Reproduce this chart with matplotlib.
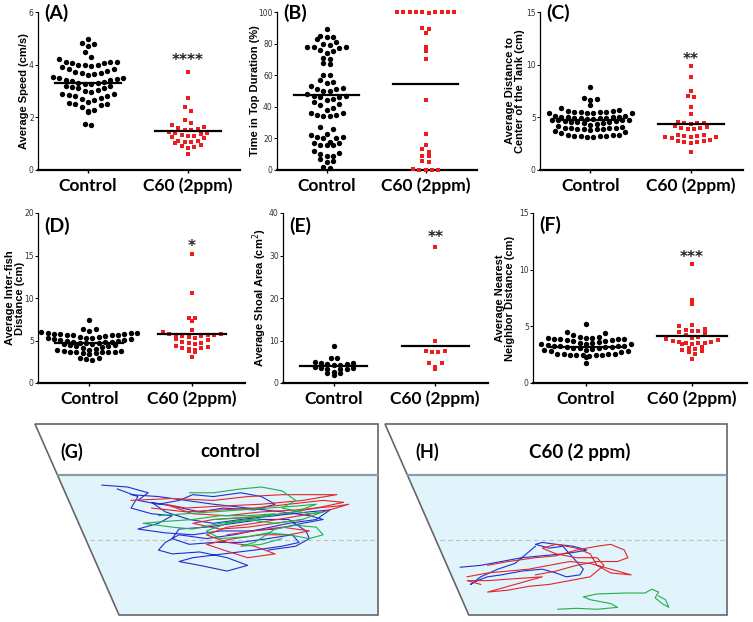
import numpy as np
import matplotlib
matplotlib.use('Agg')
import matplotlib.pyplot as plt
from matplotlib.patches import Polygon

groups = ['Control', 'C60 (2ppm)']

# panel values
speed_ctrl = [4.97, 4.82, 4.78, 4.72, 4.5, 4.28, 4.22, 4.12, 4.1, 4.1, 4.08, 4.05, 4.0, 4.0, 3.98, 3.95,
              3.92, 3.85, 3.82, 3.75, 3.72, 3.7, 3.68, 3.65, 3.6, 3.55, 3.5, 3.48, 3.45, 3.42, 3.4, 3.38,
              3.35, 3.32, 3.3, 3.28, 3.25, 3.2, 3.18, 3.15, 3.12, 3.1, 3.05, 3.0, 2.95, 2.9, 2.88, 2.85,
              2.82, 2.8, 2.75, 2.7, 2.65, 2.6, 2.55, 2.52, 2.5, 2.45, 2.4, 2.28, 2.25, 2.22, 1.75, 1.72]
speed_c60 = [3.73, 2.75, 2.38, 2.25, 1.88, 1.78, 1.7, 1.65, 1.6, 1.55, 1.52, 1.5, 1.45, 1.42, 1.4, 1.38,
             1.32, 1.3, 1.28, 1.25, 1.22, 1.1, 1.1, 1.08, 1.05, 1.02, 0.95, 0.9, 0.88, 0.85, 0.6]

top_ctrl = [89, 85, 84, 84, 83, 81, 80, 79, 78, 78, 78, 77, 76, 75, 74, 71, 70, 68, 67, 60, 60, 57, 56,
            55, 53, 52, 51, 51, 50, 50, 48, 47, 47, 46, 46, 45, 44, 43, 42, 41, 39, 38, 36, 36, 35, 35,
            34, 34, 27, 26, 23, 22, 21, 21, 20, 20, 18, 17, 17, 16, 16, 16, 12, 11, 10, 9, 9, 7, 6, 5, 2, 1]
top_c60 = [100, 100, 100, 100, 100, 100, 100, 100, 100, 99.5, 90, 89.5, 87, 78, 75.5, 70, 44, 22.5,
           16, 13, 11.5, 9, 9, 5.5, 5, 0.5, 0, 0, 0, 0]

center_ctrl = [7.9, 6.8, 6.7, 6.6, 6.2, 5.9, 5.7, 5.6, 5.6, 5.55, 5.5, 5.5, 5.5, 5.45, 5.45, 5.4, 5.4,
               5.1, 5.1, 5.05, 5.0, 5.0, 5.0, 4.95, 4.95, 4.9, 4.9, 4.85, 4.85, 4.75, 4.75, 4.7, 4.7,
               4.65, 4.65, 4.6, 4.6, 4.55, 4.5, 4.5, 4.4, 4.3, 4.2, 4.05, 4.0, 4.0, 3.95, 3.95, 3.9,
               3.9, 3.85, 3.85, 3.8, 3.7, 3.6, 3.5, 3.35, 3.3, 3.3, 3.25, 3.25, 3.2, 3.2, 3.15, 3.15]
center_c60 = [9.9, 8.8, 7.5, 7.0, 6.9, 6.0, 5.3, 4.55, 4.5, 4.5, 4.45, 4.4, 4.2, 4.1, 4.0, 3.95, 3.9,
              3.85, 3.35, 3.3, 3.25, 3.2, 3.15, 3.1, 3.1, 3.05, 2.85, 2.8, 2.75, 2.7, 2.65, 2.6, 2.55, 1.7]

inter_ctrl = [7.4, 6.4, 6.3, 6.1, 6.0, 5.9, 5.9, 5.85, 5.8, 5.8, 5.75, 5.7, 5.7, 5.65, 5.6, 5.5, 5.45,
              5.4, 5.35, 5.3, 5.25, 5.2, 5.15, 5.1, 5.05, 5.0, 4.9, 4.85, 4.8, 4.8, 4.75, 4.7, 4.65,
              4.6, 4.55, 4.5, 4.45, 4.4, 4.3, 4.2, 4.1, 4.0, 3.9, 3.85, 3.8, 3.75, 3.7, 3.7, 3.65,
              3.6, 3.6, 3.55, 3.5, 3.4, 3.0, 2.9, 2.8, 2.7]
inter_c60 = [15.2, 10.6, 7.7, 7.6, 7.3, 6.2, 6.0, 5.8, 5.75, 5.7, 5.65, 5.6, 5.55, 5.5, 5.4, 5.3, 5.2,
             5.1, 4.8, 4.75, 4.7, 4.6, 4.3, 4.2, 4.15, 4.1, 4.0, 3.9, 3.8, 3.7, 3.1]

shoal_ctrl = [8.6, 6.0, 5.9, 4.9, 4.7, 4.6, 4.5, 4.4, 4.3, 4.2, 3.8, 3.6, 3.5, 3.4, 3.3, 3.2, 2.6,
              2.4, 2.3, 1.8]
shoal_c60 = [32.1, 9.8, 7.6, 7.3, 7.2, 7.5, 4.6, 3.4, 3.8, 4.8]

nnd_ctrl = [5.2, 4.5, 4.4, 4.2, 4.1, 4.05, 4.0, 4.0, 3.95, 3.9, 3.9, 3.85, 3.85, 3.8, 3.8, 3.75, 3.7,
            3.6, 3.55, 3.5, 3.45, 3.4, 3.4, 3.35, 3.3, 3.3, 3.25, 3.25, 3.2, 3.2, 3.15, 3.1, 3.1,
            3.05, 3.0, 2.95, 2.9, 2.85, 2.8, 2.7, 2.6, 2.6, 2.55, 2.55, 2.5, 2.5, 2.5, 2.45, 2.45,
            2.4, 2.3, 1.8]
nnd_c60 = [10.5, 7.3, 7.0, 5.1, 5.0, 4.8, 4.7, 4.6, 4.6, 4.5, 4.4, 4.2, 4.1, 4.0, 3.9, 3.8, 3.7,
           3.65, 3.6, 3.55, 3.5, 3.5, 3.45, 3.4, 3.2, 3.1, 3.0, 2.9, 2.8, 2.7, 2.6, 2.1]

means = [[3.3, 1.47], [47.2, 54.5], [4.7, 4.35], [4.7, 5.8], [4.1, 8.8], [3.2, 4.15]]
stars = ['****', '', '**', '*', '**', '***']
star_y = [4.15, 0, 10.5, 16.1, 34.2, 11.1]
letters = ['(A)', '(B)', '(C)', '(D)', '(E)', '(F)']
ylabels = ['Average Speed (cm/s)', 'Time in Top Duration (%)',
           'Average Distance to\nCenter of the Tank (cm)', 'Average Inter-fish\nDistance (cm)',
           'Average Shoal Area (cm$^2$)', 'Average Nearest\nNeighbor Distance (cm)']
ymax = [6, 100, 15, 20, 40, 15]
ystep = [2, 20, 5, 5, 10, 5]

data = [(speed_ctrl, speed_c60), (top_ctrl, top_c60), (center_ctrl, center_c60),
        (inter_ctrl, inter_c60), (shoal_ctrl, shoal_c60), (nnd_ctrl, nnd_c60)]

# swim tracks, tank units (x 0-100 left->right, y 0-100 top->bottom)
g_blue = [(19.5, 32), (27, 33), (33, 36), (30, 40), (36, 42), (42, 40), (46, 37), (52, 38), (60, 36),
          (66, 38), (70, 42), (64, 45), (55, 44), (48, 46), (40, 43), (34, 41), (38, 46), (45, 50),
          (52, 52), (60, 50), (70, 48), (80, 46), (86, 45), (82, 50), (74, 52), (66, 55), (58, 58),
          (50, 60), (42, 58), (38, 62), (36, 66), (40, 68), (48, 67), (56, 70), (62, 74), (56, 77),
          (48, 74), (42, 72), (46, 70), (55, 68), (64, 66), (72, 64), (77, 62), (75, 58), (68, 60),
          (60, 62), (52, 62), (45, 63), (40, 60), (42, 55), (50, 54), (58, 52), (66, 50), (74, 50),
          (79, 56), (80, 60), (76, 64), (68, 66)]
g_blue2 = [(24, 34), (30, 38), (28, 44), (34, 47), (40, 48), (36, 52), (30, 55), (38, 57), (46, 58),
           (54, 56), (62, 56), (70, 55), (78, 52), (84, 50), (80, 48), (72, 46), (62, 44), (52, 42),
           (44, 40), (36, 38), (28, 37)]
g_red = [(28, 40), (40, 39), (52, 40), (62, 38), (72, 37), (82, 37), (88, 37), (78, 40), (66, 42),
         (54, 43), (44, 44), (38, 42), (46, 47), (56, 48), (66, 46), (76, 45), (88, 43), (91.5, 42),
         (84, 46), (74, 49), (64, 52), (56, 54), (50, 58), (56, 62), (64, 64), (70, 68), (62, 70),
         (55, 66), (50, 63), (58, 60), (66, 58), (74, 58), (80, 56), (72, 54), (64, 56), (56, 58)]
g_red2 = [(34, 44), (44, 46), (54, 45), (64, 44), (74, 42), (84, 40), (90, 41), (82, 44), (72, 47),
          (62, 49), (52, 50), (46, 52), (54, 55), (62, 54), (70, 52), (78, 50)]
g_green = [(45, 36), (52, 36), (60, 34), (66, 33), (72, 35), (76, 40), (72, 44), (80, 47), (84, 46),
           (78, 50), (70, 52), (62, 50), (54, 52), (46, 55), (40, 54), (31.5, 52), (38, 51), (46, 50),
           (54, 48), (62, 48), (70, 47), (64, 50), (56, 52), (50, 56), (54, 60), (62, 59), (68, 57),
           (74, 58), (80, 60), (84, 58), (82, 54), (76, 53), (70, 55), (64, 62), (60, 64), (66, 63),
           (72, 60)]
g_green2 = [(36, 48), (44, 47), (52, 46), (60, 45), (68, 44), (76, 43), (82, 42), (76, 46), (68, 48),
            (60, 49), (52, 50)]
h_blue = [(22, 75), (28, 74), (34, 72), (40, 70), (46, 69), (52, 68), (56, 67), (59, 66), (55, 64),
          (50, 63), (46, 62), (44, 63), (48, 65), (52, 64), (54, 68), (56, 72), (58, 76), (57, 79),
          (53, 80), (50, 78), (46, 76), (40, 77), (34, 79), (30, 80), (27, 82), (25, 84), (28, 80),
          (33, 76), (38, 73), (42, 67), (44, 64)]
h_red = [(24, 80), (30, 78), (36, 77), (42, 76), (48, 74), (54, 72), (60, 73), (66, 76), (70, 78),
         (72, 79), (66, 78), (62, 74), (60, 68), (56, 65), (50, 63), (46, 65), (50, 68), (56, 70),
         (62, 70), (64, 74), (60, 80), (54, 82), (48, 84), (42, 85), (36, 87), (30, 88), (34, 86),
         (40, 83), (46, 80), (38, 81), (30, 82), (24, 82), (28, 84)]
h_red2 = [(30, 74), (36, 72), (44, 70), (50, 69), (56, 66), (62, 64), (66, 63), (70, 66), (71, 70),
          (68, 72), (62, 72), (56, 74), (50, 77), (44, 79)]
h_green = [(50.5, 97), (56, 96.5), (62, 97), (68, 96), (66, 94), (60, 92), (58, 90.5), (62, 89),
           (70, 88.5), (76, 88.5), (78, 86.5), (80, 88), (79, 91), (81, 94), (83, 96), (82, 92), (80, 90)]

W, H = 753, 622
fig = plt.figure(figsize=(W / 100, H / 100), dpi=100)


def px_axes(l, t, r, b):
    return fig.add_axes([l / W, 1 - b / H, (r - l) / W, (b - t) / H])


def swarm_x(ax, vals, xc, row_px, col_px=6.4):
    # GraphPad-like rows: bin by row height, smallest in the middle
    vals = np.asarray(vals, float)
    ppy = ax.bbox.height / (ax.get_ylim()[1] - ax.get_ylim()[0])
    ppx = ax.bbox.width / (ax.get_xlim()[1] - ax.get_xlim()[0])
    h, w = row_px / ppy, col_px / ppx
    bins = np.round(vals / h).astype(int)
    xs = np.zeros(len(vals))
    for b in np.unique(bins):
        idx = np.where(bins == b)[0]
        idx = idx[np.argsort(vals[idx])]
        n = len(idx)
        if n % 2:
            slots = [0] + [s for k in range(1, n) for s in (k, -k)]
        else:
            slots = [s for k in range(n) for s in (k + 0.5, -k - 0.5)]
        xs[idx] = xc + np.array(slots[:n]) * w
    return xs


boxes = [(38, 12, 240, 170), (277, 12, 477, 170), (540, 12, 743, 170),
         (38, 213, 245, 383), (283, 213, 488, 383), (533, 213, 747, 383)]
label_cx = [24, 255, 515, 15, 260, 505]
letter_top = [4, 4, 4, 217, 217, 216]
row_px = [[9, 6], [8, 6], [6, 6], [6, 6], [7, 6], [6, 6]]

for i, box in enumerate(boxes):
    ax = px_axes(*box)
    ax.set_xlim(-0.5, 1.52)
    ax.set_ylim(0, ymax[i])
    ctrl, c60 = data[i]
    ax.scatter(swarm_x(ax, ctrl, 0, row_px[i][0]), ctrl, s=15, marker='o', color='black',
               linewidths=0, zorder=3, clip_on=False)
    ax.scatter(swarm_x(ax, c60, 1, row_px[i][1]), c60, s=10, marker='s', color='#ee1c1c',
               linewidths=0, zorder=3, clip_on=False)
    for j in range(2):
        ax.plot([j - 0.33, j + 0.33], [means[i][j]] * 2, color='black', lw=1.6, zorder=4)
    if stars[i]:
        ax.text(1, star_y[i], stars[i], ha='center', va='center', fontsize=11,
                fontweight='bold', color='#222222')
    bh = box[3] - box[1]
    ax.text(0.03, (box[3] - letter_top[i]) / bh, letters[i], transform=ax.transAxes,
            ha='left', va='top', fontsize=14, fontweight='bold', family='Lato')
    for s in ['top', 'right']:
        ax.spines[s].set_visible(False)
    ax.spines['left'].set_linewidth(0.9)
    ax.spines['bottom'].set_linewidth(1.6)
    ax.set_yticks(np.arange(0, ymax[i] + 1e-9, ystep[i]))
    ax.tick_params(axis='y', labelsize=5.5, length=2, width=0.7, pad=1, labelcolor='#333333')
    ax.set_xticks([0, 1])
    ax.set_xticklabels(groups, fontsize=12.5, fontweight='bold', family='Lato')
    ax.tick_params(axis='x', length=2.5, width=1, pad=3)
    ax.set_ylabel(ylabels[i], fontsize=8, fontweight='bold', family='Liberation Sans',
                  linespacing=0.95, va='center')
    ax.yaxis.set_label_coords((label_cx[i] - box[0]) / (box[2] - box[0]), 0.5)

# tank drawings
tank_boxes = [(35, 424, 378, 615), (385, 424, 727, 615)]
tank_titles = [('(G)', 'control'), ('(H)', 'C60 (2 ppm)')]
blue, red, green = '#1f2fd0', '#e3262a', '#22b04a'
tracks = [[(g_blue, blue), (g_blue2, blue), (g_red, red), (g_red2, red), (g_green, green),
           (g_green2, green)],
          [(h_blue, blue), (h_red, red), (h_red2, red), (h_green, green)]]
for k, box in enumerate(tank_boxes):
    tx = px_axes(*box)
    tx.set_xlim(0, 100)
    tx.set_ylim(100, 0)
    tx.axis('off')
    tx.add_patch(Polygon([(6.6, 26.7), (100, 26.7), (100, 100), (24.5, 100)],
                         closed=True, facecolor='#e1f3fb', edgecolor='none'))
    tx.add_patch(Polygon([(0, 0), (100, 0), (100, 100), (24.5, 100)], closed=True,
                         facecolor='none', edgecolor='#666666', lw=1.2, clip_on=False))
    tx.plot([6.6, 100], [26.7, 26.7], color='#8e9ca4', lw=1.6)
    tx.plot([16, 100], [60.7, 60.7], color='#b8c2c8', lw=0.8, ls=(0, (4, 3)))
    for pts, col in tracks[k]:
        p = np.array(pts)
        tx.plot(p[:, 0], p[:, 1], color=col, lw=0.8)
    tx.text(7.5 if k == 0 else 9, 14.5, tank_titles[k][0], ha='left', va='center',
            fontsize=13, fontweight='bold', family='Lato')
    tx.text(57, 14.5, tank_titles[k][1], ha='center', va='center',
            fontsize=13.5, fontweight='bold', family='Lato')

fig.savefig('out.png', dpi=100)
